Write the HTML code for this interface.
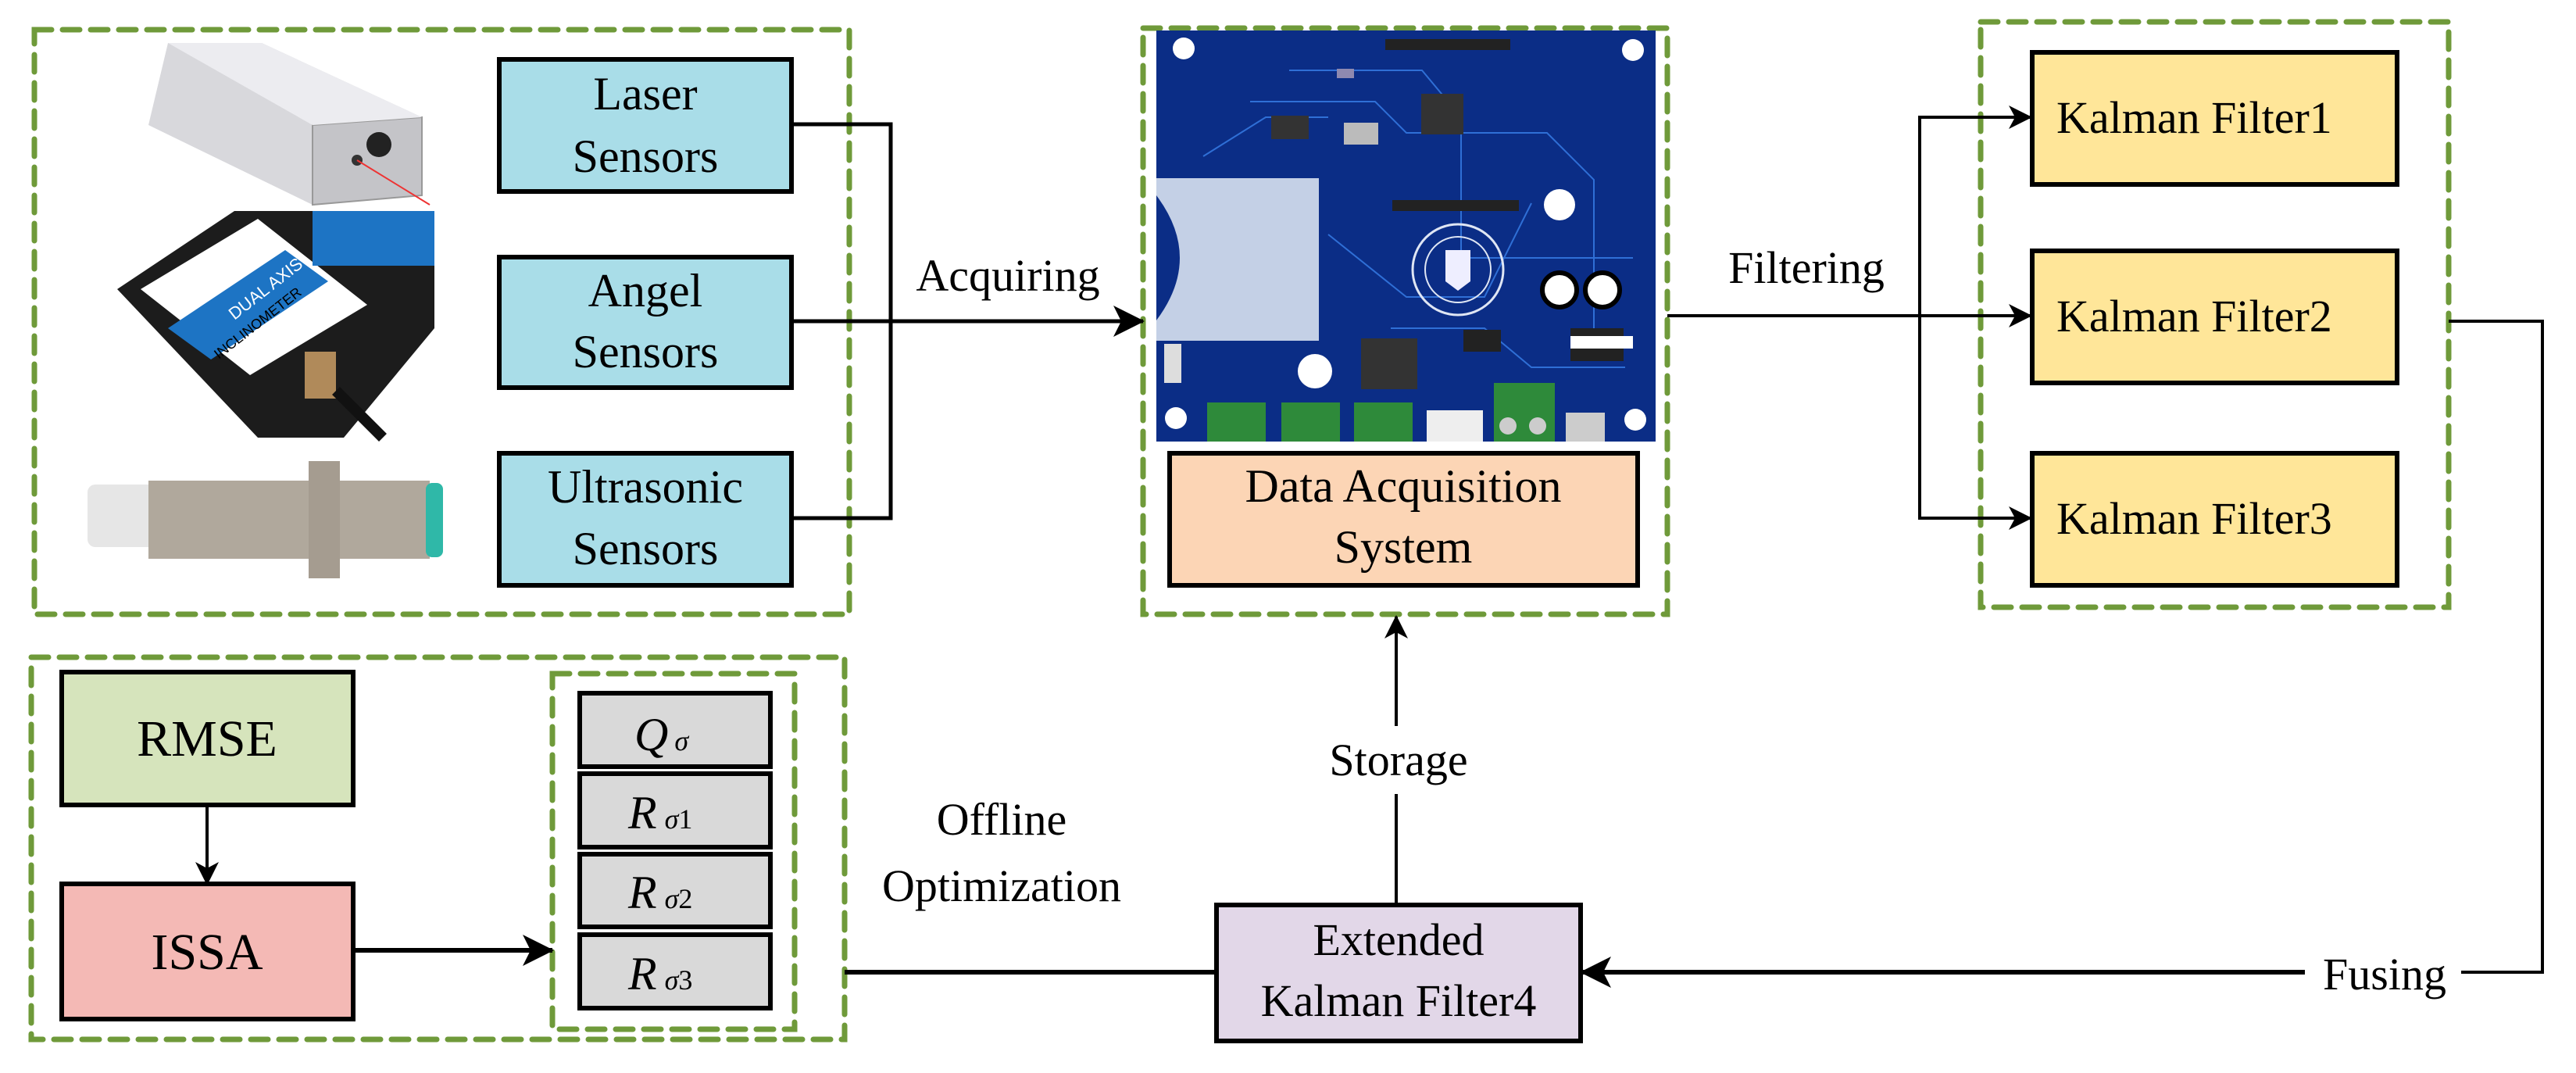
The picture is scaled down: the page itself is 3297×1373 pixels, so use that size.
<!DOCTYPE html>
<html><head><meta charset="utf-8"><style>
html,body{margin:0;padding:0;background:#fff;}
svg{display:block;}
svg text{font-family:"Liberation Serif","Times New Roman",serif;fill:#000;}
</style></head><body>
<svg width="3297" height="1373" viewBox="0 0 3297 1373" xmlns="http://www.w3.org/2000/svg" font-family="Liberation Serif, Times New Roman, serif">
<defs>
<marker id="ah" viewBox="0 0 30 30" refX="28" refY="15" markerWidth="30" markerHeight="30" markerUnits="userSpaceOnUse" orient="auto">
<path d="M0,0 L30,15 L0,30 L8,15 Z" fill="#000"/>
</marker>
<marker id="ahb" viewBox="0 0 40 40" refX="38" refY="20" markerWidth="40" markerHeight="40" markerUnits="userSpaceOnUse" orient="auto">
<path d="M0,0 L40,20 L0,40 L10,20 Z" fill="#000"/>
</marker>
</defs>

<g fill="none" stroke="#6f9a3a" stroke-width="7" stroke-dasharray="22 14" stroke-linecap="round">
<rect x="44" y="38" width="1043" height="748"/>
<rect x="1463" y="36" width="671" height="750"/>
<rect x="2535" y="28" width="599" height="749"/>
<rect x="40" y="841" width="1041" height="489"/>
<rect x="707" y="862" width="310" height="455"/>
</g>

<g>
<polygon points="215,55 335,55 540,150 540,250 400,262 190,160" fill="#d8d8dc"/>
<polygon points="400,160 540,150 540,250 400,262" fill="#c4c4c8" stroke="#999" stroke-width="2"/>
<polygon points="215,55 335,55 540,150 400,160" fill="#ececf0"/>
<circle cx="485" cy="185" r="16" fill="#222"/>
<circle cx="457" cy="205" r="7" fill="#333"/>
<line x1="457" y1="205" x2="550" y2="262" stroke="#e33" stroke-width="2"/>
</g>
<g>
<polygon points="300,270 556,270 556,420 440,560 330,560 150,370" fill="#1c1c1c"/>
<polygon points="180,370 330,280 470,390 320,480" fill="#fff"/>
<polygon points="215,420 365,320 420,360 270,460" fill="#1d74c4"/>
<rect x="400" y="270" width="156" height="70" fill="#1d74c4"/>
<rect x="390" y="450" width="40" height="60" fill="#b08a5a"/>
<line x1="430" y1="500" x2="490" y2="560" stroke="#111" stroke-width="14"/>
<text x="300" y="410" font-size="22" transform="rotate(-38 300 410)" style="fill:#fff;font-family:'Liberation Sans',sans-serif">DUAL AXIS</text>
<text x="280" y="460" font-size="18" transform="rotate(-38 280 460)" style="font-family:'Liberation Sans',sans-serif">INCLINOMETER</text>
</g>
<g>
<rect x="112" y="620" width="90" height="80" rx="10" fill="#e6e6e6"/>
<rect x="190" y="615" width="360" height="100" fill="#b0a89c"/>
<rect x="395" y="590" width="40" height="150" fill="#a59c90"/>
<rect x="545" y="618" width="22" height="95" rx="8" fill="#2fb8a8"/>
</g>

<g stroke="#000" stroke-width="6">
<rect x="639" y="76" width="374" height="169" fill="#a9dde8"/>
<rect x="639" y="329" width="374" height="167" fill="#a9dde8"/>
<rect x="639" y="580" width="374" height="169" fill="#a9dde8"/>
</g>
<g font-size="60" text-anchor="middle">
<text x="826" y="140">Laser</text><text x="826" y="220">Sensors</text>
<text x="826" y="392">Angel</text><text x="826" y="470">Sensors</text>
<text x="826" y="643">Ultrasonic</text><text x="826" y="722">Sensors</text>
</g>

<g fill="none" stroke="#000" stroke-width="5">
<polyline points="1013,159 1140,159 1140,663 1013,663"/>
<line x1="1013" y1="411" x2="1463" y2="411" marker-end="url(#ahb)"/>
</g>
<text x="1290" y="372" font-size="58" text-anchor="middle">Acquiring</text>

<g>
<rect x="1480" y="39" width="639" height="526" fill="#0b2d86"/>
<g fill="none" stroke="#2f6fd6" stroke-width="2">
<path d="M1650,90 L1820,90 L1870,150 L1870,330 L2090,330"/>
<path d="M1600,130 L1760,130 L1800,170 L1980,170 L2040,230 L2040,420"/>
<path d="M1700,300 L1800,380 L1900,380 L1960,260"/>
<path d="M1540,200 L1620,150 L1700,150"/>
<path d="M1780,420 L1900,420 L1960,470 L2080,470"/>
</g>
<rect x="1773" y="50" width="160" height="14" fill="#222"/>
<rect x="1782" y="256" width="162" height="14" fill="#222"/>
<rect x="1819" y="120" width="54" height="52" fill="#333"/>
<rect x="1627" y="148" width="48" height="30" fill="#333"/>
<rect x="1720" y="157" width="44" height="28" fill="#bbb"/>
<rect x="1711" y="88" width="22" height="12" fill="#8e89b0"/>
<rect x="1480" y="228" width="208" height="208" fill="#c4d0e6"/>
<path d="M1480,250 Q1540,330 1480,410 Z" fill="#0b2d86"/>
<circle cx="1515" cy="62" r="14" fill="#fff"/>
<circle cx="2090" cy="64" r="14" fill="#fff"/>
<circle cx="1505" cy="535" r="14" fill="#fff"/>
<circle cx="2093" cy="537" r="14" fill="#fff"/>
<circle cx="1866" cy="345" r="58" fill="none" stroke="#dfe6f4" stroke-width="3"/>
<circle cx="1866" cy="345" r="42" fill="none" stroke="#dfe6f4" stroke-width="2"/>
<path d="M1850,320 L1882,320 L1882,360 L1866,372 L1850,360Z" fill="#eef"/>
<circle cx="1996" cy="371" r="22" fill="#fff" stroke="#000" stroke-width="6"/>
<circle cx="2051" cy="371" r="22" fill="#fff" stroke="#000" stroke-width="6"/>
<circle cx="1996" cy="262" r="20" fill="#fff"/>
<rect x="1742" y="433" width="72" height="65" fill="#333"/>
<rect x="2010" y="420" width="68" height="42" fill="#222"/>
<rect x="2010" y="430" width="80" height="16" fill="#fff"/>
<rect x="1873" y="422" width="48" height="28" fill="#222"/>
<circle cx="1683" cy="475" r="22" fill="#fff"/>
<rect x="1490" y="440" width="22" height="50" fill="#ddd"/>
<rect x="1545" y="515" width="75" height="50" fill="#2e8a3a"/>
<rect x="1640" y="515" width="75" height="50" fill="#2e8a3a"/>
<rect x="1733" y="515" width="75" height="50" fill="#2e8a3a"/>
<rect x="1826" y="525" width="72" height="40" fill="#eee"/>
<rect x="1912" y="490" width="78" height="75" fill="#2e8a3a"/>
<circle cx="1930" cy="545" r="11" fill="#ccc"/><circle cx="1968" cy="545" r="11" fill="#ccc"/>
<rect x="2004" y="528" width="50" height="37" fill="#ccc"/>
</g>

<rect x="1497" y="580" width="599" height="169" fill="#fcd5b5" stroke="#000" stroke-width="6"/>
<g font-size="60" text-anchor="middle">
<text x="1796" y="642">Data Acquisition</text>
<text x="1796" y="720">System</text>
</g>

<g fill="none" stroke="#000" stroke-width="4">
<line x1="2134" y1="404" x2="2599" y2="404" marker-end="url(#ah)"/>
<polyline points="2457,404 2457,150 2599,150" marker-end="url(#ah)"/>
<polyline points="2457,404 2457,663 2599,663" marker-end="url(#ah)"/>
<polyline points="3134,411 3254,411 3254,1244 3150,1244"/>
</g>
<text x="2312" y="362" font-size="58" text-anchor="middle">Filtering</text>

<g stroke="#000" stroke-width="6" fill="#ffe699">
<rect x="2601" y="67" width="467" height="169"/>
<rect x="2601" y="321" width="467" height="169"/>
<rect x="2601" y="580" width="467" height="169"/>
</g>
<g font-size="58">
<text x="2632" y="170">Kalman Filter1</text>
<text x="2632" y="424">Kalman Filter2</text>
<text x="2632" y="683">Kalman Filter3</text>
</g>

<line x1="2950" y1="1244" x2="2024" y2="1244" stroke="#000" stroke-width="6" marker-end="url(#ahb)"/>
<text x="3052" y="1266" font-size="58" text-anchor="middle">Fusing</text>

<rect x="1557" y="1158" width="466" height="174" fill="#e2d7e8" stroke="#000" stroke-width="6"/>
<g font-size="58" text-anchor="middle">
<text x="1790" y="1222">Extended</text>
<text x="1790" y="1300">Kalman Filter4</text>
</g>

<g stroke="#000" stroke-width="4">
<line x1="1787" y1="1156" x2="1787" y2="1016"/>
<line x1="1787" y1="929" x2="1787" y2="789" marker-end="url(#ah)"/>
</g>
<text x="1790" y="992" font-size="58" text-anchor="middle">Storage</text>

<line x1="1081" y1="1244" x2="1557" y2="1244" stroke="#000" stroke-width="6"/>
<g font-size="58" text-anchor="middle">
<text x="1282" y="1068">Offline</text>
<text x="1282" y="1153">Optimization</text>
</g>

<rect x="79" y="860" width="373" height="170" fill="#d6e4bc" stroke="#000" stroke-width="6"/>
<rect x="79" y="1131" width="373" height="173" fill="#f4b9b5" stroke="#000" stroke-width="6"/>
<g font-size="66" text-anchor="middle">
<text x="265" y="967">RMSE</text>
<text x="265" y="1240">ISSA</text>
</g>
<line x1="265" y1="1030" x2="265" y2="1131" stroke="#000" stroke-width="4" marker-end="url(#ah)"/>
<line x1="452" y1="1216" x2="707" y2="1216" stroke="#000" stroke-width="6" marker-end="url(#ahb)"/>

<g stroke="#000" stroke-width="6" fill="#d9d9d9">
<rect x="742" y="887" width="244" height="94"/>
<rect x="742" y="990" width="244" height="94"/>
<rect x="742" y="1093" width="244" height="93"/>
<rect x="742" y="1196" width="244" height="94"/>
</g>
<g font-style="italic">
<text x="812" y="960" font-size="60">Q<tspan font-size="36" dx="8">σ</tspan></text>
<text x="804" y="1060" font-size="60">R<tspan font-size="36" dx="10">σ</tspan><tspan font-size="36" font-style="normal">1</tspan></text>
<text x="804" y="1162" font-size="60">R<tspan font-size="36" dx="10">σ</tspan><tspan font-size="36" font-style="normal">2</tspan></text>
<text x="804" y="1266" font-size="60">R<tspan font-size="36" dx="10">σ</tspan><tspan font-size="36" font-style="normal">3</tspan></text>
</g>
</svg>
</body></html>
